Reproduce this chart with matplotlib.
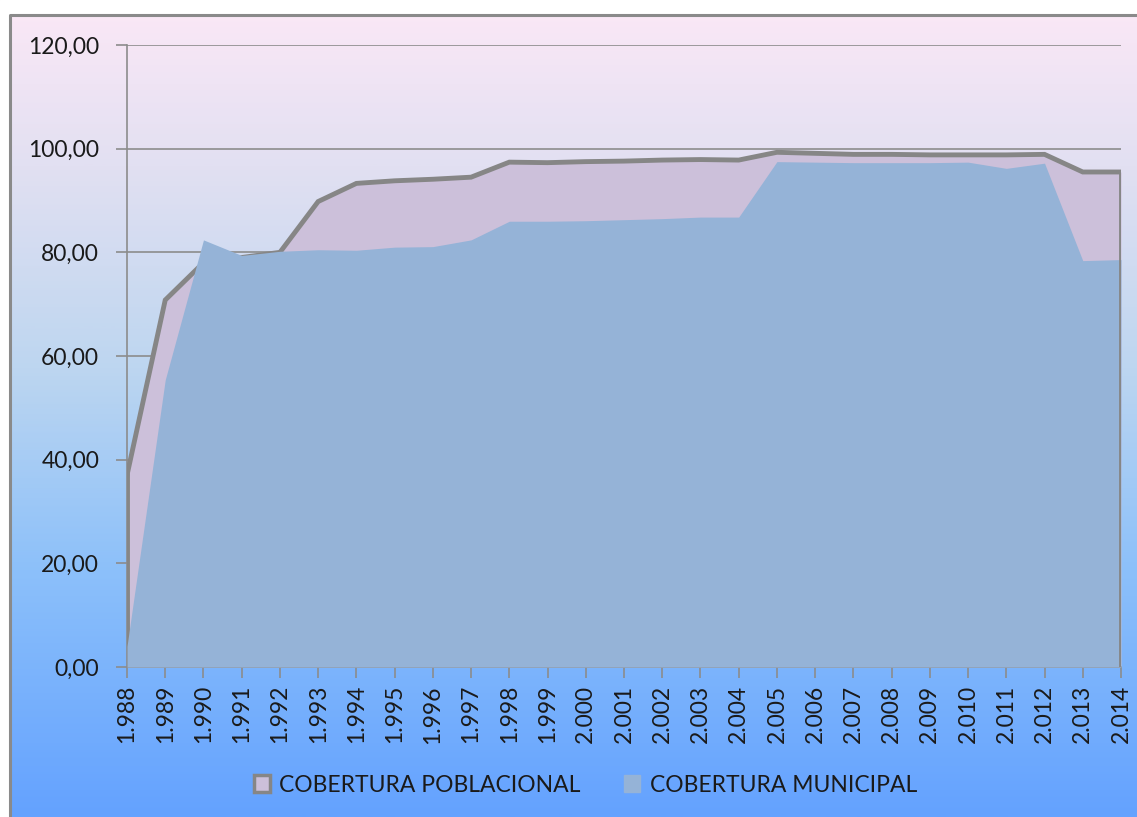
import numpy as np
import matplotlib.pyplot as plt
from matplotlib.colors import LinearSegmentedColormap
from matplotlib.patches import Rectangle, Patch

years = list(range(1988, 2015))
year_labels = ['{}.{}'.format(str(y)[0], str(y)[1:]) for y in years]

poblacional = [37.0, 70.8, 78.0, 79.0, 80.0, 89.8, 93.3, 93.8, 94.1, 94.5,
               97.4, 97.3, 97.5, 97.6, 97.8, 97.9, 97.8, 99.3, 99.1, 98.9,
               98.9, 98.8, 98.8, 98.8, 98.9, 95.5, 95.5]
municipal = [4.0, 55.4, 82.4, 79.4, 80.2, 80.5, 80.4, 81.0, 81.1, 82.4,
             86.0, 86.0, 86.1, 86.3, 86.5, 86.8, 86.8, 97.5, 97.4, 97.3,
             97.3, 97.3, 97.4, 96.2, 97.2, 78.4, 78.6]
yticks = [0, 20, 40, 60, 80, 100, 120]

plt.rcParams['font.family'] = ['Lato', 'DejaVu Sans']

fig = plt.figure(figsize=(11.37, 8.17), dpi=100)

# background gradient
bg = fig.add_axes([0, 0, 1, 1], zorder=-10)
cmap = LinearSegmentedColormap.from_list('bg', [(0.0, '#FCE8F6'), (0.2, '#E2E0F2'),
                                                (0.45, '#BDD6F0'), (0.7, '#8CC0FA'),
                                                (1.0, '#64A2FF')])
grad = np.linspace(0, 1, 400).reshape(-1, 1)
bg.imshow(grad, aspect='auto', cmap=cmap, extent=[0, 1, 0, 1])
bg.set_xlim(0, 1)
bg.set_ylim(0, 1)
bg.axis('off')
# white margin top/left and gray frame
W, H = 1137, 817
bg.add_patch(Rectangle((0, 1 - 15 / H), 1, 15 / H, color='white', zorder=2))
bg.add_patch(Rectangle((0, 0), 10 / W, 1, color='white', zorder=2))
bg.plot([10 / W, 10 / W, 1.01], [-0.01, 1 - 15 / H, 1 - 15 / H], color='#8A8A8A', lw=2.2, zorder=3)

ax = fig.add_axes([127 / W, 1 - 667 / H, (1121 - 127) / W, (667 - 45) / H])
ax.patch.set_alpha(0)

ax.fill_between(years, poblacional, 0, color='#CCC0DA', zorder=2, lw=0)
ax.plot(years, poblacional, color='#868686', lw=3.5, zorder=3, solid_joinstyle='miter')
ax.plot([years[0], years[0]], [0, poblacional[0]], color='#868686', lw=3.5, zorder=3)
ax.fill_between(years, municipal, 0, color='#95B3D7', zorder=4, lw=0)
ax.plot([years[-1], years[-1]], [0, poblacional[-1]], color='#868686', lw=3.5, zorder=5)

ax.set_xlim(years[0], years[-1])
ax.set_ylim(0, 120)
ax.set_yticks(yticks)
ax.set_yticklabels(['{},00'.format(v) for v in yticks], fontsize=16.5, color='#1a1a1a')
ax.set_xticks(years)
ax.set_xticklabels(year_labels, rotation=90, fontsize=16.5, color='#1a1a1a')
ax.yaxis.grid(True, color='#8C8C8C', lw=1.2, zorder=1)
ax.set_axisbelow(True)
for s in ['top', 'right']:
    ax.spines[s].set_visible(False)
for s in ['left', 'bottom']:
    ax.spines[s].set_color('#8C8C8C')
    ax.spines[s].set_linewidth(1.2)
ax.tick_params(axis='both', color='#8C8C8C', length=8, width=1.2)
ax.tick_params(axis='y', pad=12)
ax.tick_params(axis='x', pad=5)

handles = [Patch(facecolor='#CCC0DA', edgecolor='#868686', lw=2.5, label='COBERTURA POBLACIONAL'),
           Patch(facecolor='#95B3D7', edgecolor='#95B3D7', label='COBERTURA MUNICIPAL')]
fig.legend(handles=handles, loc='center', bbox_to_anchor=(0.515, 1 - 785 / H), ncol=2,
           frameon=False, fontsize=16.5, handlelength=0.7, handleheight=0.7,
           columnspacing=1.9, handletextpad=0.4, labelcolor='#1a1a1a')

fig.savefig('out.png', dpi=100)
